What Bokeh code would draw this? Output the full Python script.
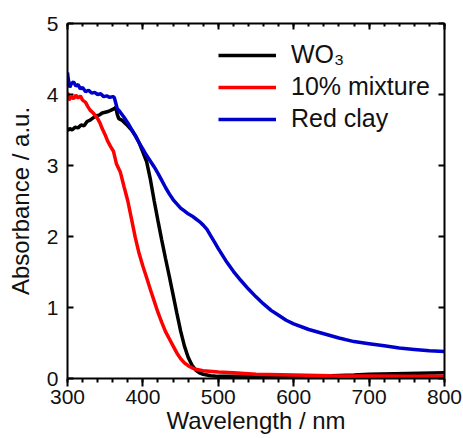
from bokeh.plotting import figure
from bokeh.models import Range1d, LinearAxis, SingleIntervalTicker, Legend, LegendItem, CustomJSTickFormatter
from bokeh.embed import file_html
from bokeh.resources import INLINE

# ---- data ----
wo3_x = [300, 303, 306, 310, 314, 318, 322, 326, 330, 334, 338, 342, 346, 350, 354, 358, 362, 364,
         366, 368, 372, 376, 380, 385, 390, 395, 400, 405, 410, 415, 420, 425, 430, 435, 440, 445,
         450, 455, 460, 465, 470, 475, 480, 490, 500, 550, 600, 650, 680, 700, 750, 800]
wo3_y = [3.49, 3.52, 3.50, 3.54, 3.53, 3.57, 3.56, 3.62, 3.64, 3.67, 3.70, 3.71, 3.74, 3.75, 3.76, 3.78, 3.80, 3.82,
         3.72, 3.66, 3.64, 3.60, 3.56, 3.50, 3.42, 3.32, 3.19, 3.05, 2.80, 2.50, 2.22, 1.95, 1.69, 1.44, 1.18, 0.92,
         0.67, 0.46, 0.30, 0.19, 0.12, 0.08, 0.06, 0.04, 0.03, 0.03, 0.03, 0.04, 0.05, 0.06, 0.07, 0.08]

mix_x = [300, 302, 305, 308, 311, 314, 317, 320, 324, 327, 330, 334, 337, 340, 343, 346, 350, 353, 357, 361,
         365, 370, 375, 380, 385, 390, 395, 400, 405, 410, 415, 420, 425, 430, 435, 440, 445, 450, 455, 460,
         465, 470, 480, 500, 520, 550, 600, 650, 700, 750, 800]
mix_y = [4.03, 3.92, 3.97, 3.94, 3.99, 3.95, 3.98, 3.92, 3.89, 3.83, 3.78, 3.74, 3.70, 3.66, 3.60, 3.52, 3.43, 3.35, 3.27, 3.20,
         3.02, 2.91, 2.70, 2.50, 2.24, 1.98, 1.76, 1.58, 1.42, 1.25, 1.09, 0.93, 0.79, 0.66, 0.56, 0.46, 0.36, 0.28, 0.22, 0.18,
         0.15, 0.13, 0.11, 0.09, 0.08, 0.06, 0.05, 0.04, 0.035, 0.03, 0.03]

clay_x = [300, 301, 303, 305, 308, 311, 314, 317, 320, 324, 328, 332, 336, 340, 344, 348, 352, 356, 360, 362,
          364, 366, 370, 375, 380, 385, 390, 395, 400, 405, 410, 415, 420, 425, 430, 435, 440, 445, 450, 455,
          460, 465, 470, 475, 480, 485, 490, 495, 500, 510, 520, 530, 540, 550, 560, 570, 580, 590, 600, 620,
          640, 660, 680, 700, 720, 740, 760, 780, 800]
clay_y = [4.31, 4.22, 4.10, 4.15, 4.18, 4.12, 4.14, 4.08, 4.10, 4.04, 4.06, 4.02, 4.03, 4.00, 4.01, 3.97, 3.98, 3.96, 3.97, 3.96,
          3.88, 3.80, 3.75, 3.68, 3.60, 3.51, 3.42, 3.32, 3.23, 3.14, 3.06, 2.98, 2.89, 2.79, 2.69, 2.60, 2.52, 2.46, 2.40, 2.36,
          2.32, 2.29, 2.25, 2.21, 2.16, 2.10, 2.01, 1.92, 1.83, 1.66, 1.51, 1.38, 1.26, 1.15, 1.05, 0.96, 0.89, 0.82, 0.77, 0.69,
          0.63, 0.57, 0.52, 0.49, 0.46, 0.43, 0.41, 0.39, 0.38]

labels = ["WO\u2083", "10% mixture", "Red clay"]
colors = ["#000000", "#FF0000", "#0000CC"]

FONT = "Liberation Sans"

p = figure(width=463, height=438, x_range=Range1d(300, 800), y_range=Range1d(0, 5),
           output_backend="svg", toolbar_location=None,
           min_border_left=67, min_border_right=19, min_border_top=23, min_border_bottom=60)
p.outline_line_color = None
p.xgrid.visible = False
p.ygrid.visible = False
p.background_fill_color = "white"
p.border_fill_color = "white"

r1 = p.line(wo3_x, wo3_y, line_color=colors[0], line_width=3.5)
r2 = p.line(mix_x, mix_y, line_color=colors[1], line_width=3.5)
r3 = p.line(clay_x, clay_y, line_color=colors[2], line_width=3.5)

# bottom axis
xa = p.xaxis[0]
xa.ticker = SingleIntervalTicker(interval=100, num_minor_ticks=5)
xa.axis_label = "Wavelength / nm"
xa.axis_label_text_font = FONT
xa.axis_label_text_font_size = "24px"
xa.axis_label_text_font_style = "normal"
xa.axis_label_text_color = "#111111"
xa.axis_label_standoff = 0
xa.major_label_text_font = FONT
xa.major_label_text_font_size = "21px"
xa.major_label_text_color = "#111111"
xa.major_label_standoff = 3
xa.major_tick_in = 0
xa.major_tick_out = 8
xa.minor_tick_in = 0
xa.minor_tick_out = 4
xa.axis_line_width = 2
xa.major_tick_line_width = 2
xa.minor_tick_line_width = 2

# left axis
ya = p.yaxis[0]
ya.ticker = SingleIntervalTicker(interval=1, num_minor_ticks=0)
ya.axis_label = "Absorbance / a.u."
ya.axis_label_text_font = FONT
ya.axis_label_text_font_size = "24px"
ya.axis_label_text_font_style = "normal"
ya.axis_label_text_color = "#111111"
ya.axis_label_standoff = 10
ya.major_label_text_font = FONT
ya.major_label_text_font_size = "21px"
ya.major_label_text_color = "#111111"
ya.major_label_standoff = 9
ya.major_tick_in = 6
ya.major_tick_out = 0
ya.minor_tick_line_color = None
ya.axis_line_width = 2
ya.major_tick_line_width = 2

# top axis (ticks only)
ta = LinearAxis(ticker=SingleIntervalTicker(interval=100, num_minor_ticks=5),
                formatter=CustomJSTickFormatter(code="return ''"), major_label_standoff=0,
                major_tick_in=6, major_tick_out=0, minor_tick_in=3, minor_tick_out=0,
                axis_line_width=2, major_tick_line_width=2, minor_tick_line_width=2)
p.add_layout(ta, "above")

# right axis (ticks only)
ra = LinearAxis(ticker=SingleIntervalTicker(interval=1, num_minor_ticks=0),
                formatter=CustomJSTickFormatter(code="return ''"), major_label_standoff=0,
                major_tick_in=6, major_tick_out=0, minor_tick_line_color=None,
                axis_line_width=2, major_tick_line_width=2)
p.add_layout(ra, "right")

legend = Legend(items=[LegendItem(label=labels[0], renderers=[r1]),
                       LegendItem(label=labels[1], renderers=[r2]),
                       LegendItem(label=labels[2], renderers=[r3])],
                location=(151, 245), padding=0, margin=0, spacing=3,
                glyph_width=58, glyph_height=26, label_height=26, label_standoff=15,
                label_text_font="Liberation Sans, DejaVu Sans", label_text_font_size="25px",
                label_text_color="#111111",
                border_line_color=None, background_fill_alpha=0)
p.add_layout(legend)

open("out.html", "w").write(file_html(p, INLINE))
